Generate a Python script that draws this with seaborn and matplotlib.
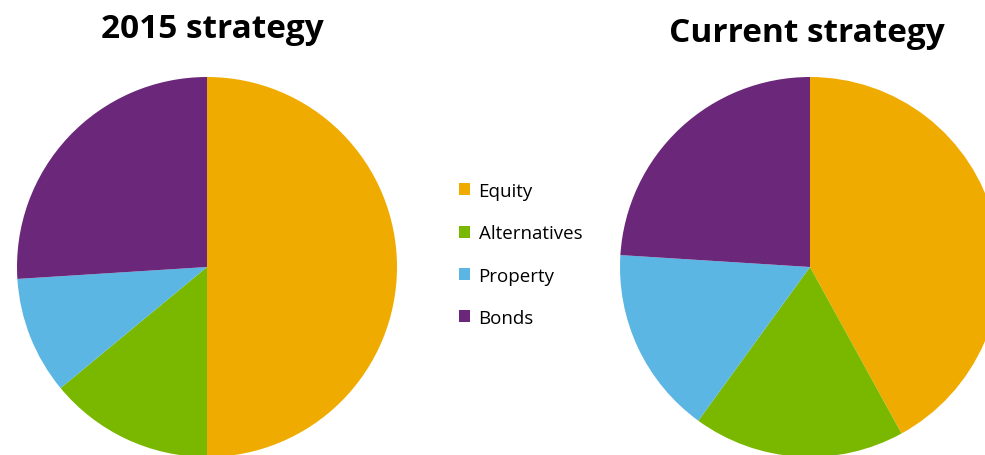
import matplotlib
matplotlib.use("Agg")
import matplotlib.pyplot as plt
import seaborn as sns

sns.set_style("white")
plt.rcParams["font.family"] = ["Open Sans", "DejaVu Sans"]
plt.rcParams["text.color"] = "black"

categories = ["Equity", "Alternatives", "Property", "Bonds"]
colours = ["#F0AB00", "#7AB800", "#5BB6E3", "#6B2779"]
strategy_2015 = [50, 14, 10, 26]
strategy_current = [42, 18, 16, 24]
titles = ["2015 strategy", "Current strategy"]

W, H = 985, 456
R = 190  # pie radius in pixels
fig = plt.figure(figsize=(W / 100, H / 100), dpi=100)


def pie_axes(vals, x0, x1, cx, cy):
    # axes spanning pixel columns x0..x1, full height; pie centre at (cx, cy) from top
    ax = fig.add_axes([x0 / W, 0, (x1 - x0) / W, 1])
    wedges, _ = ax.pie(
        vals, colors=colours, startangle=90, counterclock=False,
        radius=1, wedgeprops=dict(linewidth=0),
    )
    ax.set_aspect("auto")
    ax.set_xlim(-(cx - x0) / R, (x1 - cx) / R)
    ax.set_ylim(-(H - cy) / R, cy / R)
    ax.axis("off")
    return ax, wedges


ax1, wedges = pie_axes(strategy_2015, 0, 430, 207, 268)
ax2, _ = pie_axes(strategy_current, 560, 985, 810, 268)

fig.text(212 / W, 1 - 29 / H, titles[0], ha="center", va="center",
         fontsize=24, fontweight="bold")
fig.text(807 / W, 1 - 34 / H, titles[1], ha="center", va="center",
         fontsize=24, fontweight="bold")

fig.legend(
    wedges, categories, loc="upper left", bbox_to_anchor=(442 / W, 1 - 166 / H),
    frameon=False, fontsize=13.5, handlelength=0.6, handleheight=0.6,
    handletextpad=0.45, labelspacing=1.3,
)

fig.savefig("out.png", dpi=100)
